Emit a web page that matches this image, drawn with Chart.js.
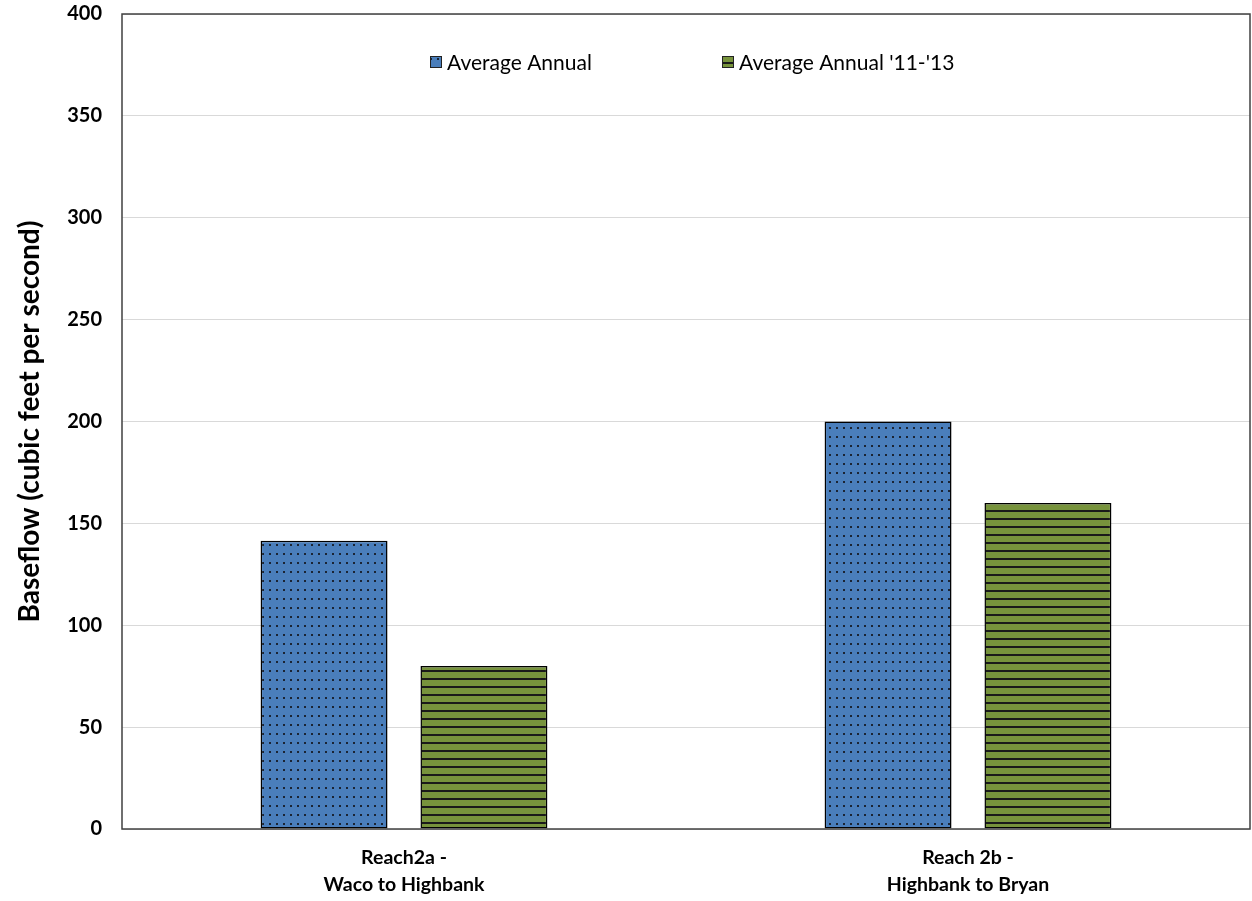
<!DOCTYPE html>
<html>
<head>
<meta charset="utf-8">
<script src="https://cdn.jsdelivr.net/npm/chart.js@4.4.1/dist/chart.umd.min.js"></script>
<style>
  html, body { margin: 0; padding: 0; background: #fff; }
  #wrap { width: 1252px; height: 901px; }
</style>
</head>
<body>
<div id="wrap"><canvas id="chart"></canvas></div>
<script>
const categories = [["Reach2a -", "Waco to Highbank"], ["Reach 2b -", "Highbank to Bryan"]];
const seriesLabels = ["Average Annual", "Average Annual '11-'13"];
const averageAnnual = [141.5, 200];
const averageAnnual1113 = [80, 160];
const yMax = 400;
const yStep = 50;

const FONT = "Lato, 'Open Sans', sans-serif";

// Dotted blue fill
function dotPattern(ctx) {
  const c = document.createElement("canvas");
  c.width = 7; c.height = 9;
  const p = c.getContext("2d");
  p.fillStyle = "#4a7ebb";
  p.fillRect(0, 0, 7, 9);
  p.fillStyle = "#1b2433";
  p.fillRect(3, 4, 2, 2);
  return ctx.createPattern(c, "repeat");
}

// Horizontally striped green fill
function stripePattern(ctx) {
  const c = document.createElement("canvas");
  c.width = 4; c.height = 8;
  const p = c.getContext("2d");
  p.fillStyle = "#77933c";
  p.fillRect(0, 0, 4, 8);
  p.fillStyle = "#1a1a1a";
  p.fillRect(0, 6, 4, 2);
  return ctx.createPattern(c, "repeat");
}

const canvas = document.getElementById("chart");
const ctx = canvas.getContext("2d");
const fills = [dotPattern(ctx), stripePattern(ctx)];

// Frame around the plot area and legend drawn inside it
const framePlugin = {
  id: "frame",
  afterDraw(chart) {
    const { ctx, chartArea } = chart;
    ctx.save();
    ctx.strokeStyle = "#404040";
    ctx.lineWidth = 1.5;
    ctx.strokeRect(chartArea.left, chartArea.top, chartArea.right - chartArea.left, chartArea.bottom - chartArea.top);

    const xs = [chartArea.left + 308, chartArea.left + 600];
    const y = chartArea.top + 48;
    ctx.font = "21px " + FONT;
    ctx.textBaseline = "middle";
    chart.data.datasets.forEach((ds, i) => {
      ctx.fillStyle = fills[i];
      ctx.fillRect(xs[i], y - 6, 12, 12);
      ctx.strokeStyle = "#222";
      ctx.lineWidth = 1;
      ctx.strokeRect(xs[i] + 0.5, y - 5.5, 11, 11);
      ctx.fillStyle = "#000";
      ctx.fillText(ds.label, xs[i] + 17, y + 1);
    });
    ctx.restore();
  }
};

new Chart(ctx, {
  type: "bar",
  data: {
    labels: categories,
    datasets: [
      {
        label: seriesLabels[0],
        data: averageAnnual,
        backgroundColor: fills[0],
        borderColor: "#000",
        borderWidth: 1.5,
        borderSkipped: false
      },
      {
        label: seriesLabels[1],
        data: averageAnnual1113,
        backgroundColor: fills[1],
        borderColor: "#000",
        borderWidth: 1.5,
        borderSkipped: false
      }
    ]
  },
  options: {
    responsive: true,
    maintainAspectRatio: false,
    animation: false,
    datasets: { bar: { categoryPercentage: 0.567, barPercentage: 0.794 } },
    layout: { padding: { top: 0, right: 2, left: 0, bottom: 0 } },
    plugins: {
      legend: { display: false },
      tooltip: { enabled: false }
    },
    scales: {
      x: {
        grid: { display: false, drawTicks: false },
        border: { display: false },
        ticks: {
          color: "#000",
          padding: 16,
          font: { family: FONT, size: 19.5, weight: "bold", lineHeight: 1.35 }
        },
        afterFit(scale) { scale.height = 72; }
      },
      y: {
        min: 0,
        max: yMax,
        grid: { color: "#d9d9d9", lineWidth: 1, drawTicks: false },
        border: { display: false },
        ticks: {
          stepSize: yStep,
          color: "#000",
          padding: 20,
          font: { family: FONT, size: 20, weight: "bold" }
        },
        title: {
          display: true,
          text: "Baseflow (cubic feet per second)",
          color: "#000",
          padding: { top: 13, bottom: 0 },
          font: { family: FONT, size: 28, weight: "bold" }
        },
        afterFit(scale) {
          scale.width = 122;
          scale.paddingTop = 14;
          scale.paddingBottom = 0;
        }
      }
    }
  },
  plugins: [framePlugin]
});
</script>
</body>
</html>
